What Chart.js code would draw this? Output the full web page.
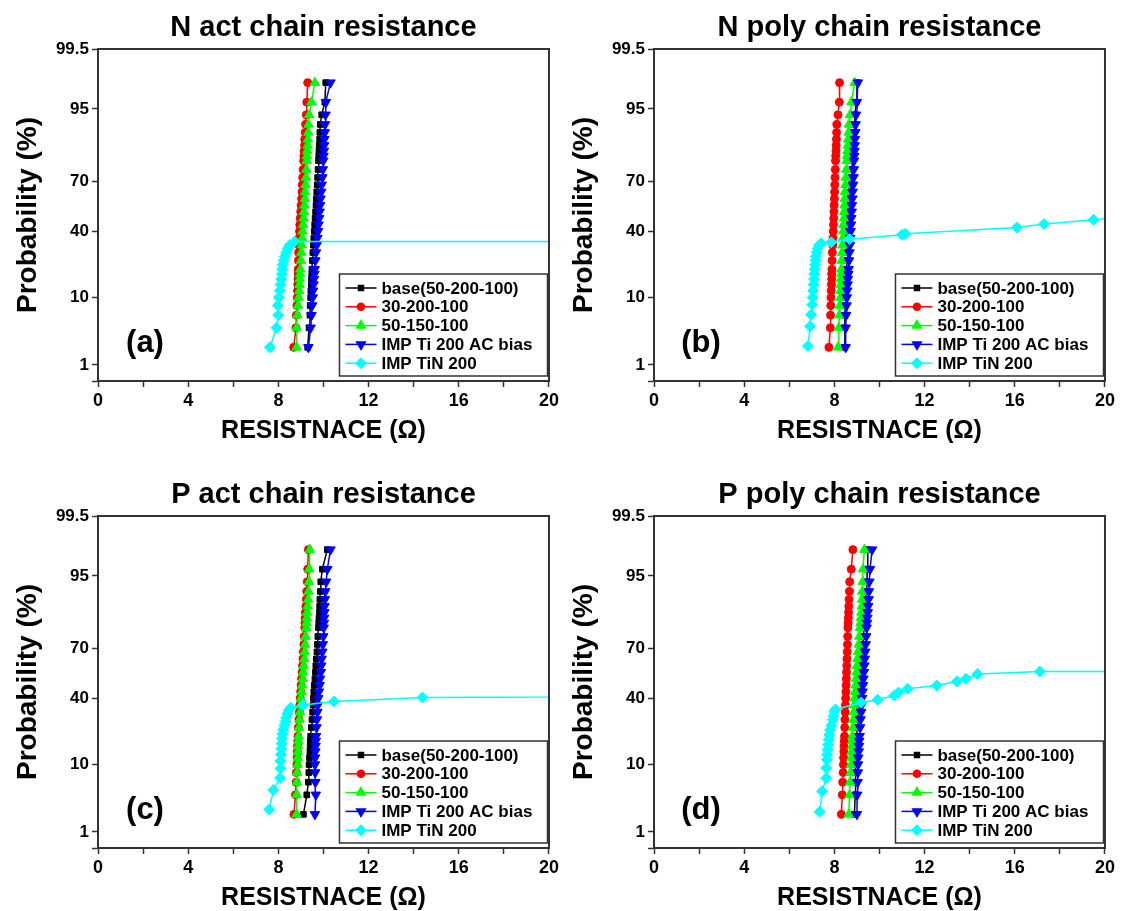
<!DOCTYPE html>
<html>
<head>
<meta charset="utf-8">
<script src="https://cdn.jsdelivr.net/npm/chart.js@4.4.1/dist/chart.umd.min.js"></script>
<style>
  html, body { margin: 0; padding: 0; background: #fff; }
  body { width: 1122px; height: 911px; position: relative; overflow: hidden; }
  canvas { position: absolute; }
</style>
</head>
<body>
<canvas id="chartA" width="562" height="455" style="left:0px;top:0px"></canvas>
<canvas id="chartB" width="562" height="455" style="left:556px;top:0px"></canvas>
<canvas id="chartC" width="562" height="455" style="left:0px;top:467px"></canvas>
<canvas id="chartD" width="562" height="455" style="left:556px;top:467px"></canvas>
<script>
const panelTitles = ['N act chain resistance', 'N poly chain resistance', 'P act chain resistance', 'P poly chain resistance'];
const panelTags = ['(a)', '(b)', '(c)', '(d)'];
const seriesNames = ['base(50-200-100)', '30-200-100', '50-150-100', 'IMP Ti 200 AC bias', 'IMP TiN 200'];
const yTickValues = [0.5, 1, 10, 40, 70, 95, 99.5];

// cumulative probability (%) of each sorted sample, shared by the first four splits
const probLevels = [2, 4, 6, 8, 10, 12, 14, 16, 18, 20, 24, 28, 32, 36, 40, 44, 48, 52, 56, 60, 64, 68, 72, 76, 80, 82, 84, 86, 88, 90, 92, 94, 96, 98];

// (a) N act
const nActBase = [9.30, 9.36, 9.40, 9.41, 9.43, 9.44, 9.46, 9.47, 9.48, 9.49, 9.51, 9.53, 9.55, 9.57, 9.59, 9.61, 9.63, 9.65, 9.67, 9.68, 9.70, 9.72, 9.74, 9.76, 9.78, 9.79, 9.80, 9.81, 9.83, 9.84, 9.86, 9.92, 10.06, 10.10];
const nActR30 = [8.68, 8.78, 8.80, 8.82, 8.84, 8.85, 8.86, 8.87, 8.88, 8.88, 8.89, 8.90, 8.91, 8.92, 8.94, 8.95, 8.97, 8.99, 9.01, 9.03, 9.05, 9.06, 9.08, 9.10, 9.12, 9.13, 9.14, 9.16, 9.17, 9.19, 9.21, 9.24, 9.26, 9.30];
const nActG50 = [8.81, 8.81, 8.84, 8.87, 8.90, 8.93, 8.94, 8.95, 8.97, 8.98, 9.00, 9.02, 9.04, 9.06, 9.08, 9.10, 9.12, 9.14, 9.16, 9.18, 9.19, 9.21, 9.23, 9.25, 9.26, 9.27, 9.28, 9.30, 9.31, 9.33, 9.34, 9.37, 9.47, 9.62];
const nActTiAC = [9.33, 9.43, 9.47, 9.50, 9.52, 9.54, 9.56, 9.58, 9.60, 9.61, 9.64, 9.67, 9.70, 9.73, 9.76, 9.78, 9.81, 9.83, 9.85, 9.87, 9.90, 9.92, 9.95, 9.97, 9.99, 10.00, 10.02, 10.03, 10.04, 10.06, 10.07, 10.09, 10.11, 10.31];
const nActTiNProb = [2, 4, 6, 8, 10, 12, 14, 16, 18, 20, 22, 24, 26, 28, 30, 32, 34, 34.2];
const nActTiNRes = [7.63, 7.92, 8.00, 7.98, 8.03, 8.07, 8.10, 8.13, 8.16, 8.18, 8.20, 8.24, 8.28, 8.35, 8.42, 8.50, 8.72, 60];

// (b) N poly
const nPolyBase = [8.45, 8.46, 8.47, 8.48, 8.50, 8.51, 8.52, 8.53, 8.54, 8.55, 8.57, 8.59, 8.60, 8.62, 8.63, 8.65, 8.66, 8.68, 8.69, 8.71, 8.72, 8.74, 8.76, 8.78, 8.80, 8.81, 8.82, 8.84, 8.85, 8.87, 8.89, 8.92, 8.96, 9.00];
const nPolyR30 = [7.76, 7.82, 7.83, 7.84, 7.85, 7.86, 7.87, 7.88, 7.88, 7.89, 7.90, 7.91, 7.93, 7.94, 7.95, 7.96, 7.97, 7.98, 7.99, 8.00, 8.01, 8.02, 8.03, 8.04, 8.05, 8.06, 8.07, 8.08, 8.09, 8.10, 8.11, 8.16, 8.22, 8.23];
const nPolyG50 = [8.16, 8.20, 8.22, 8.24, 8.26, 8.27, 8.28, 8.29, 8.30, 8.31, 8.32, 8.34, 8.36, 8.38, 8.39, 8.40, 8.42, 8.43, 8.44, 8.46, 8.47, 8.49, 8.51, 8.53, 8.55, 8.56, 8.58, 8.60, 8.61, 8.63, 8.65, 8.70, 8.76, 8.90];
const nPolyTiAC = [8.50, 8.50, 8.52, 8.54, 8.55, 8.57, 8.59, 8.60, 8.62, 8.63, 8.65, 8.67, 8.69, 8.70, 8.72, 8.74, 8.75, 8.77, 8.78, 8.80, 8.81, 8.83, 8.85, 8.86, 8.87, 8.88, 8.89, 8.90, 8.91, 8.93, 8.94, 8.96, 9.00, 9.04];
const nPolyTiNProb = [2.1, 4.2, 6.1, 8.2, 10, 12, 14, 16, 18, 20, 22, 24, 26, 28, 30, 32, 33, 33.6, 35.4, 38, 38.6, 42.3, 44.4, 47, 50.5];
const nPolyTiNRes = [6.83, 6.93, 6.97, 7.02, 7.04, 7.06, 7.08, 7.10, 7.12, 7.13, 7.15, 7.17, 7.19, 7.22, 7.26, 7.32, 7.42, 7.86, 8.67, 11.0, 11.15, 16.1, 17.3, 19.5, 22];

// (c) P act
const pActBase = [9.11, 9.26, 9.33, 9.35, 9.36, 9.38, 9.40, 9.41, 9.42, 9.43, 9.46, 9.49, 9.52, 9.54, 9.55, 9.57, 9.59, 9.62, 9.64, 9.66, 9.68, 9.71, 9.73, 9.75, 9.78, 9.79, 9.80, 9.82, 9.83, 9.84, 9.86, 9.88, 9.95, 10.17];
const pActR30 = [8.69, 8.76, 8.79, 8.80, 8.82, 8.83, 8.84, 8.85, 8.86, 8.87, 8.89, 8.91, 8.93, 8.95, 8.97, 8.99, 9.01, 9.03, 9.05, 9.07, 9.09, 9.11, 9.13, 9.15, 9.17, 9.18, 9.19, 9.20, 9.22, 9.24, 9.26, 9.28, 9.30, 9.33];
const pActG50 = [8.81, 8.81, 8.82, 8.83, 8.85, 8.86, 8.87, 8.88, 8.89, 8.90, 8.92, 8.94, 8.96, 8.98, 9.00, 9.03, 9.06, 9.08, 9.10, 9.12, 9.15, 9.17, 9.19, 9.21, 9.24, 9.25, 9.26, 9.28, 9.30, 9.32, 9.34, 9.36, 9.37, 9.40];
const pActTiAC = [9.62, 9.66, 9.64, 9.63, 9.62, 9.63, 9.64, 9.65, 9.66, 9.67, 9.69, 9.71, 9.73, 9.75, 9.77, 9.80, 9.83, 9.85, 9.88, 9.90, 9.92, 9.95, 9.97, 9.99, 10.01, 10.02, 10.03, 10.04, 10.05, 10.06, 10.08, 10.12, 10.17, 10.31];
const pActTiNProb = [2.4, 4.7, 6.8, 9, 11, 13, 15, 17, 19, 21, 23, 25, 27, 29, 31, 33, 34.5, 36, 38.1, 40.5, 42];
const pActTiNRes = [7.60, 7.78, 8.08, 8.10, 8.10, 8.12, 8.14, 8.15, 8.17, 8.19, 8.22, 8.27, 8.32, 8.36, 8.40, 8.46, 8.55, 9.10, 10.47, 14.39, 40];

// (d) P poly
const pPolyBase = [8.89, 8.92, 8.93, 8.94, 8.95, 8.96, 8.97, 8.98, 8.99, 9.00, 9.02, 9.04, 9.06, 9.08, 9.10, 9.12, 9.14, 9.16, 9.18, 9.20, 9.22, 9.24, 9.26, 9.28, 9.30, 9.32, 9.34, 9.36, 9.38, 9.40, 9.42, 9.44, 9.46, 9.48];
const pPolyR30 = [8.31, 8.35, 8.37, 8.39, 8.40, 8.41, 8.42, 8.43, 8.44, 8.45, 8.46, 8.47, 8.48, 8.49, 8.50, 8.51, 8.52, 8.53, 8.54, 8.55, 8.56, 8.57, 8.58, 8.59, 8.60, 8.61, 8.62, 8.63, 8.64, 8.65, 8.67, 8.68, 8.75, 8.82];
const pPolyG50 = [8.64, 8.67, 8.70, 8.72, 8.74, 8.75, 8.77, 8.78, 8.79, 8.80, 8.82, 8.84, 8.86, 8.88, 8.90, 8.92, 8.94, 8.96, 8.98, 9.00, 9.02, 9.05, 9.08, 9.11, 9.14, 9.16, 9.18, 9.20, 9.22, 9.23, 9.24, 9.26, 9.27, 9.33];
const pPolyTiAC = [9.00, 9.01, 9.03, 9.04, 9.05, 9.06, 9.08, 9.09, 9.10, 9.12, 9.14, 9.16, 9.19, 9.21, 9.23, 9.25, 9.27, 9.29, 9.31, 9.33, 9.35, 9.37, 9.39, 9.41, 9.43, 9.45, 9.46, 9.48, 9.50, 9.52, 9.53, 9.55, 9.58, 9.67];
const pPolyTiNProb = [2.2, 4.5, 6.8, 9.1, 11.4, 13, 14.6, 16.5, 18.5, 20.5, 22.9, 25, 27.9, 30, 32.3, 33.5, 37.5, 39.1, 41.7, 43.5, 45.8, 47.8, 50.3, 52, 54.9, 56.4, 56.6];
const pPolyTiNRes = [7.35, 7.46, 7.64, 7.64, 7.67, 7.69, 7.71, 7.73, 7.75, 7.78, 7.82, 7.87, 7.94, 7.97, 8.00, 8.05, 9.19, 9.92, 10.66, 10.85, 11.25, 12.54, 13.44, 13.84, 14.35, 17.11, 60];

const FONT = '"Liberation Sans", Arial, sans-serif';
const seriesColors = ['#000000', '#ff0000', '#00ff00', '#0000ff', '#00ffff'];
const pointStyles = ['rect', 'circle', 'triangle', 'triangle', 'rectRot'];
const pointRadii = [4, 4, 5.5, 5.5, 5.5];
const pointRotations = [0, 0, 0, 180, 0];

// inverse normal CDF (Acklam), used by the probability axis
function probit(pct) {
  const p = pct / 100;
  const a = [-3.969683028665376e+01, 2.209460984245205e+02, -2.759285104469687e+02, 1.383577518672690e+02, -3.066479806614716e+01, 2.506628277459239e+00];
  const b = [-5.447609879822406e+01, 1.615858368580409e+02, -1.556989798598866e+02, 6.680131188771972e+01, -1.328068155288572e+01];
  const c = [-7.784894002430293e-03, -3.223964580411365e-01, -2.400758277161838e+00, -2.549732539343734e+00, 4.374664141464968e+00, 2.938163982698783e+00];
  const d = [7.784695709041462e-03, 3.224671290700398e-01, 2.445134137142996e+00, 3.754408661907416e+00];
  const pl = 0.02425;
  let q, r;
  if (p < pl) {
    q = Math.sqrt(-2 * Math.log(p));
    return (((((c[0]*q+c[1])*q+c[2])*q+c[3])*q+c[4])*q+c[5]) / ((((d[0]*q+d[1])*q+d[2])*q+d[3])*q+1);
  }
  if (p > 1 - pl) {
    q = Math.sqrt(-2 * Math.log(1 - p));
    return -(((((c[0]*q+c[1])*q+c[2])*q+c[3])*q+c[4])*q+c[5]) / ((((d[0]*q+d[1])*q+d[2])*q+d[3])*q+1);
  }
  q = p - 0.5;
  r = q * q;
  return (((((a[0]*r+a[1])*r+a[2])*r+a[3])*r+a[4])*r+a[5])*q / (((((b[0]*r+b[1])*r+b[2])*r+b[3])*r+b[4])*r+1);
}

function normCdf(z) {
  const t = 1 / (1 + 0.3275911 * Math.abs(z) / Math.SQRT2);
  const y = 1 - (((((1.061405429*t - 1.453152027)*t) + 1.421413741)*t - 0.284496736)*t + 0.254829592)*t*Math.exp(-z*z/2);
  return z >= 0 ? (1 + y) / 2 : (1 - y) / 2;
}

class ProbitScale extends Chart.Scale {
  static id = 'probit';
  static defaults = {};
  determineDataLimits() {
    this.min = this.options.min;
    this.max = this.options.max;
  }
  buildTicks() {
    return yTickValues.map(value => ({ value }));
  }
  configure() {
    super.configure();
    this._zStart = probit(this.min);
    this._zRange = probit(this.max) - this._zStart;
  }
  getLabelForValue(value) {
    return String(value);
  }
  getPixelForValue(value) {
    return this.getPixelForDecimal((probit(value) - this._zStart) / this._zRange);
  }
  getValueForPixel(pixel) {
    return normCdf(this.getDecimalForPixel(pixel) * this._zRange + this._zStart) * 100;
  }
}
Chart.register(ProbitScale);

// title, frame, panel tag and boxed legend
const panelDecor = {
  id: 'panelDecor',
  afterDraw(chart, args, opts) {
    const { ctx, chartArea } = chart;
    ctx.save();
    ctx.strokeStyle = '#333';
    ctx.lineWidth = 2;
    ctx.strokeRect(chartArea.left, chartArea.top, chartArea.right - chartArea.left, chartArea.bottom - chartArea.top);

    ctx.fillStyle = '#000';
    ctx.textAlign = 'center';
    ctx.textBaseline = 'alphabetic';
    ctx.font = 'bold 29px ' + FONT;
    ctx.fillText(opts.title, (chartArea.left + chartArea.right) / 2, chartArea.top - 13);
    ctx.font = 'bold 31px ' + FONT;
    ctx.fillText(opts.tag, chartArea.left + 47, chartArea.bottom - 29);

    const boxW = 208, boxH = 102;
    const bx = chartArea.right - 1.5 - boxW;
    const by = chartArea.bottom - 5 - boxH;
    ctx.fillStyle = '#fff';
    ctx.fillRect(bx, by, boxW, boxH);
    ctx.strokeStyle = '#333';
    ctx.lineWidth = 1.5;
    ctx.strokeRect(bx, by, boxW, boxH);
    ctx.textAlign = 'left';
    ctx.textBaseline = 'middle';
    ctx.font = 'bold 17px ' + FONT;
    chart.data.datasets.forEach((ds, i) => {
      const y = by + 14 + i * 18.8;
      ctx.strokeStyle = ds.borderColor;
      ctx.lineWidth = 1.5;
      ctx.beginPath();
      ctx.moveTo(bx + 6, y);
      ctx.lineTo(bx + 37, y);
      ctx.stroke();
      ctx.fillStyle = ds.backgroundColor;
      Chart.helpers.drawPoint(ctx, { pointStyle: ds.pointStyle, radius: ds.pointRadius - 0.5, rotation: ds.pointRotation, borderWidth: 1 }, bx + 21.5, y);
      ctx.fillStyle = '#000';
      ctx.fillText(ds.label, bx + 42, y + 1);
    });
    ctx.restore();
  }
};

const panels = [
  { id: 'chartA', res: [nActBase, nActR30, nActG50, nActTiAC, nActTiNRes], prob: [probLevels, probLevels, probLevels, probLevels, nActTiNProb] },
  { id: 'chartB', res: [nPolyBase, nPolyR30, nPolyG50, nPolyTiAC, nPolyTiNRes], prob: [probLevels, probLevels, probLevels, probLevels, nPolyTiNProb] },
  { id: 'chartC', res: [pActBase, pActR30, pActG50, pActTiAC, pActTiNRes], prob: [probLevels, probLevels, probLevels, probLevels, pActTiNProb] },
  { id: 'chartD', res: [pPolyBase, pPolyR30, pPolyG50, pPolyTiAC, pPolyTiNRes], prob: [probLevels, probLevels, probLevels, probLevels, pPolyTiNProb] }
];

function axisLook() {
  return {
    grid: { display: true, drawOnChartArea: false, drawTicks: true, tickLength: 6, tickColor: '#333', tickWidth: 1.5 },
    border: { display: true, color: '#333', width: 2 }
  };
}

panels.forEach((panel, p) => {
  const datasets = panel.res.map((res, i) => ({
    label: seriesNames[i],
    data: res.map((r, k) => ({ x: r, y: panel.prob[i][k] })),
    borderColor: seriesColors[i],
    backgroundColor: seriesColors[i],
    borderWidth: 1.5,
    pointStyle: pointStyles[i],
    pointRadius: pointRadii[i],
    pointRotation: pointRotations[i],
    pointBorderWidth: 1,
    order: 5 - i
  }));

  new Chart(document.getElementById(panel.id), {
    type: 'line',
    data: { datasets },
    options: {
      responsive: false,
      animation: false,
      devicePixelRatio: 1,
      layout: { padding: { top: 49, right: 12.5, left: 0, bottom: 0 } },
      plugins: {
        legend: { display: false },
        tooltip: { enabled: false },
        panelDecor: { title: panelTitles[p], tag: panelTags[p] }
      },
      scales: {
        x: Object.assign(axisLook(), {
          type: 'linear',
          min: 0,
          max: 20,
          ticks: {
            stepSize: 2, autoSkip: false, maxRotation: 0, padding: 3, color: '#000',
            font: { family: FONT, size: 18, weight: 'bold' },
            callback: v => (v % 4 === 0 ? String(v) : '')
          },
          title: {
            display: true, text: 'RESISTNACE (Ω)', color: '#000',
            font: { family: FONT, size: 25, weight: 'bold' },
            padding: { top: 0, bottom: 9 }
          },
          afterFit: s => { s.height = 74; }
        }),
        y: Object.assign(axisLook(), {
          type: 'probit',
          min: 0.5,
          max: 99.5,
          ticks: {
            autoSkip: false, padding: 3, color: '#000',
            font: { family: FONT, size: 17, weight: 'bold' },
            callback: v => (v === 0.5 ? '' : String(v))
          },
          title: {
            display: true, text: 'Probability (%)', color: '#000',
            font: { family: FONT, size: 28, weight: 'bold' },
            padding: { top: 11, bottom: 0 }
          },
          afterFit: s => { s.width = 98; }
        })
      }
    },
    plugins: [panelDecor]
  });
});
</script>
</body>
</html>
